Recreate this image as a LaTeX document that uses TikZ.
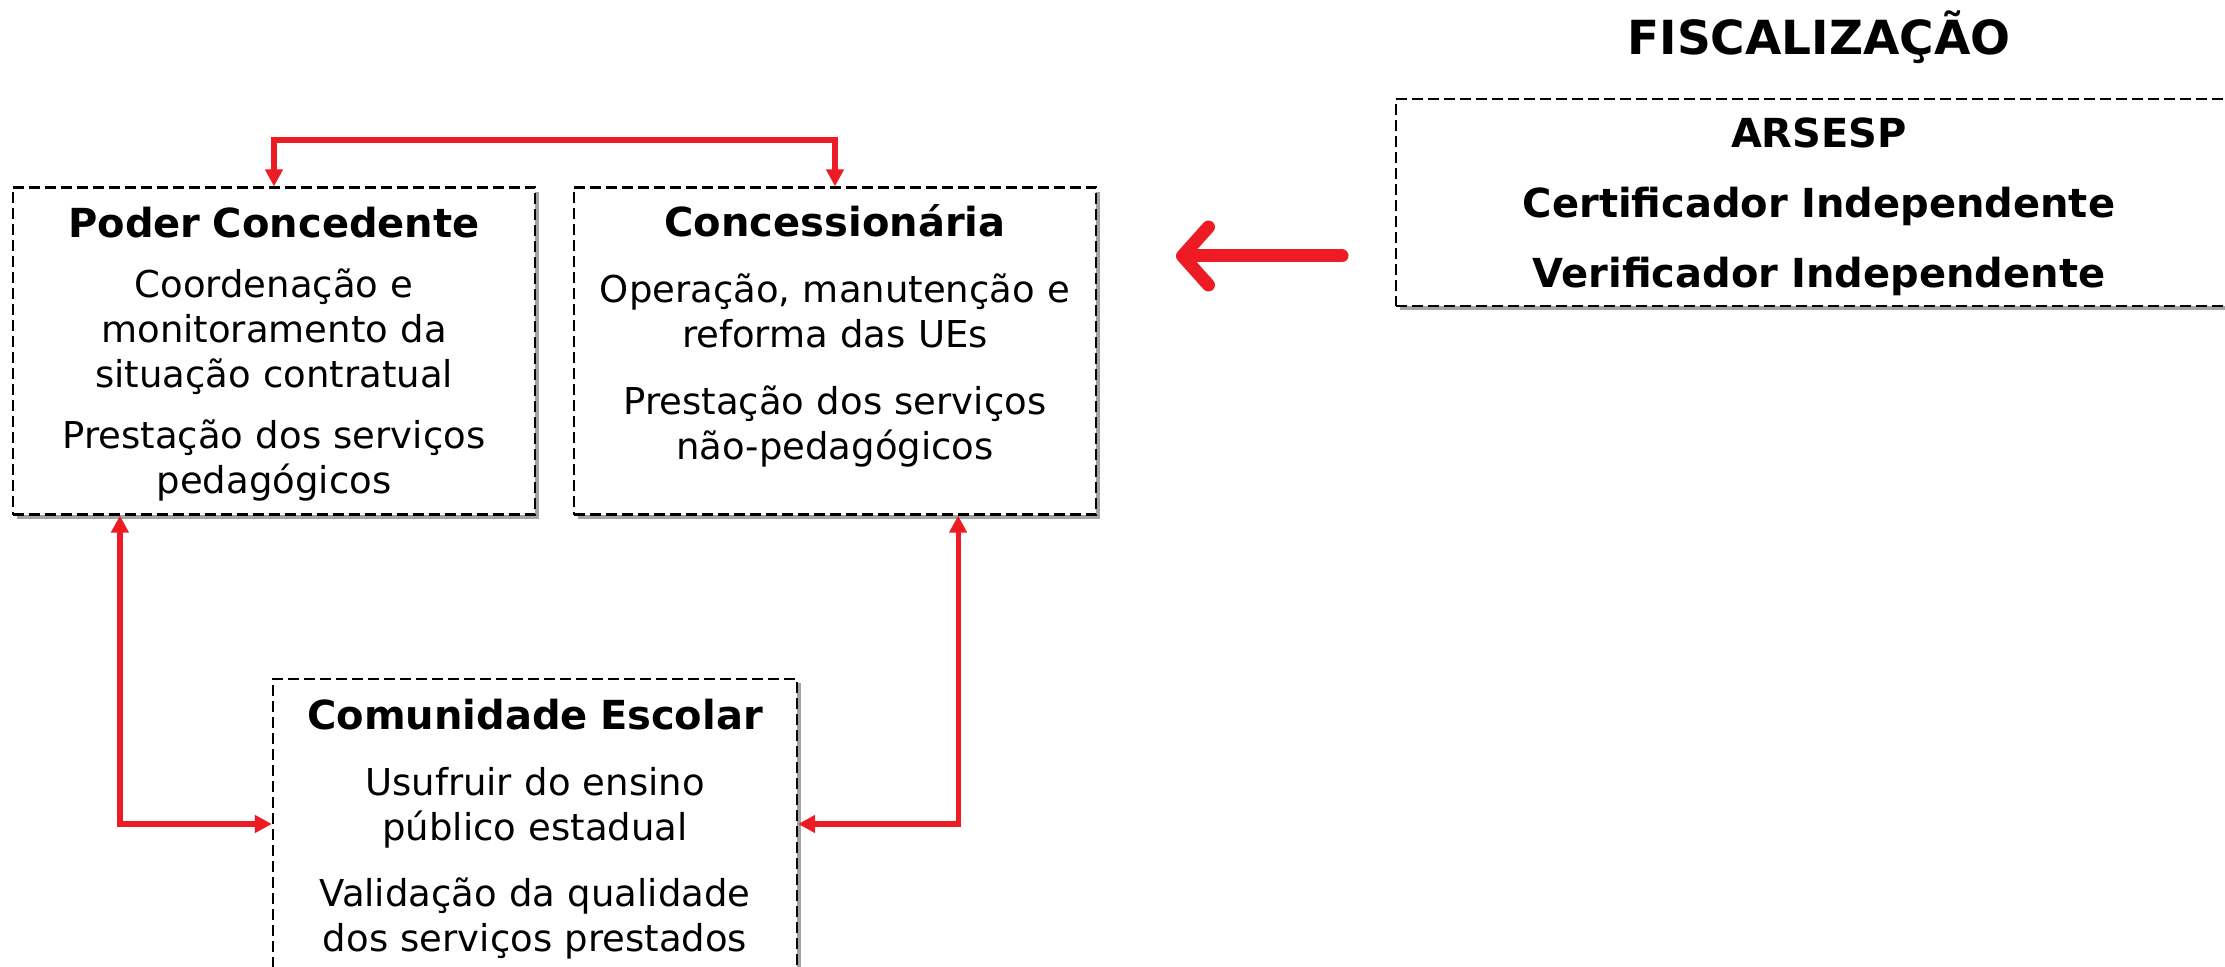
\documentclass[tikz,border=0pt]{standalone}
\usepackage{fontspec}
\setmainfont{DejaVu Sans}
\usetikzlibrary{positioning,arrows.meta,shadows}
\definecolor{vermelho}{RGB}{237,28,36}
\tikzset{
  caixa/.style={draw=black, line width=1.1pt, dash pattern=on 5.5pt off 2.5pt, fill=white, inner sep=0pt,
    drop shadow={shadow xshift=2.2pt, shadow yshift=-2.2pt, opacity=0.45, fill=black!80}},
  texto/.style={anchor=north, inner sep=0pt, text width=250pt, align=center,
    font=\fontsize{18.5}{22.5}\selectfont},
  ligacao/.style={draw=vermelho, line width=2.6pt,
    {Triangle[length=8.5pt,width=8.5pt]}-{Triangle[length=8.5pt,width=8.5pt]}},
  setagrande/.style={draw=vermelho, line width=6.5pt, line cap=round,
    -{Straight Barb[round,length=13pt,width=29pt]}},
}
\newcommand{\titulo}[1]{{\bfseries\fontsize{20}{22.5}\selectfont\rule{0pt}{17pt}#1}}
\begin{document}
\begin{tikzpicture}[x=0.5pt, y=-0.5pt]
    \useasboundingbox (0,0) rectangle (2225,967);
    \clip (0,0) rectangle (2225,967);
    % caixas dos atores
    \node[caixa, minimum width=261pt, minimum height=163.5pt] (pc) at (274,351) {};
    \node[caixa, minimum width=261pt, minimum height=163.5pt] (conc) at (835,351) {};
    \node[caixa, minimum width=262pt, minimum height=145pt] (ce) at (535,824) {};
    \node[caixa, minimum width=423pt, minimum height=103.5pt] (fisc) at (1819,202.5) {};
    % textos
    \node[texto, below=8.25pt of pc.north] (pctexto) {\titulo{Poder Concedente}\\[7.5pt]
        Coordenação e\\ monitoramento da\\ situação contratual\\[8pt]
        Prestação dos serviços\\ pedagógicos};
    \node[texto, below=7.75pt of conc.north] (conctexto) {\titulo{Concessionária}\\[10.5pt]
        Operação, manutenção e\\ reforma das UEs\\[11pt]
        Prestação dos serviços\\ não-pedagógicos};
    \node[texto, below=8.5pt of ce.north] (cetexto) {\titulo{Comunidade Escolar}\\[10.5pt]
        Usufruir do ensino\\ público estadual\\[10.5pt]
        Validação da qualidade\\ dos serviços prestados};
    \node[anchor=base, font=\bfseries\fontsize{23.5}{28}\selectfont] (titfisc) at (1819,55) {FISCALIZAÇÃO};
    \node[texto, text width=400pt, font=\bfseries\fontsize{20}{35}\selectfont, below=7.5pt of fisc.north] (fisctexto)
        {\rule{0pt}{17pt}ARSESP\\ Certificador Independente\\ Verificador Independente};
    % ligacoes
    \coordinate (topo) at (0,140);
    \draw[ligacao] (pc.north) -- (pc.north |- topo) -| (conc.north);
    \draw[ligacao] ([xshift=54pt]pc.south west) |- (ce.west);
    \draw[ligacao] ([xshift=-69.5pt]conc.south east) |- (ce.east);
    % seta da fiscalizacao
    \coordinate (setaini) at (1342,256);
    \coordinate (setafim) at (1176,256);
    \draw[setagrande] (setaini) -- (setafim);
\end{tikzpicture}
\end{document}
